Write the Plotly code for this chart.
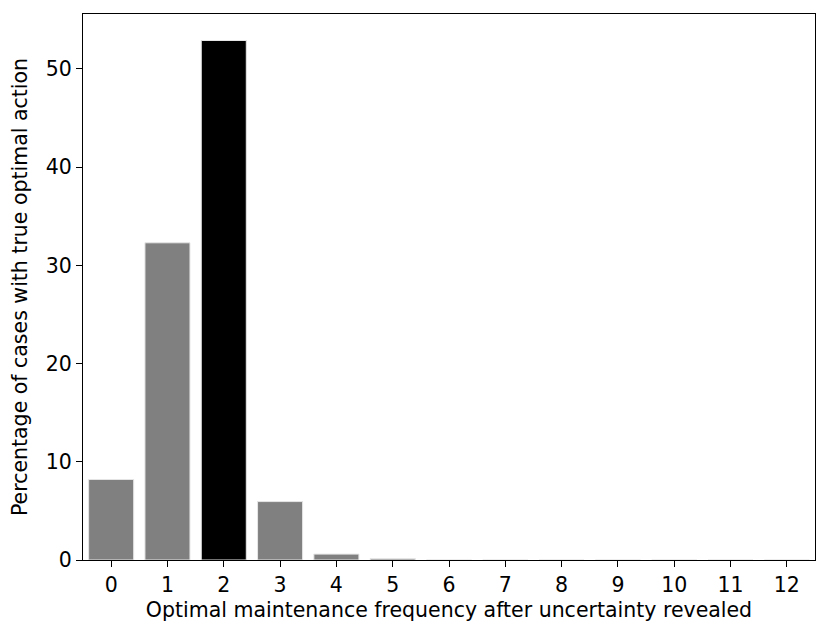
import plotly.graph_objects as go

categories = [str(i) for i in range(13)]
values = [8.2, 32.3, 52.9, 5.95, 0.6, 0.15, 0.0, 0.0, 0.0, 0.0, 0.0, 0.0, 0.0]
highlight_index = 2
y_ticks = [0, 10, 20, 30, 40, 50]

colors = ["#000000" if i == highlight_index else "#808080" for i in range(len(values))]

fig = go.Figure()
fig.add_trace(go.Bar(
    x=list(range(len(categories))), y=values,
    marker=dict(color=colors, line=dict(color="#e6e6e6", width=1)),
    width=0.8,
))

font = dict(family="DejaVu Sans", size=20.5, color="black")
fig.update_layout(
    width=830, height=637,
    margin=dict(l=75, r=23, t=6, b=85, autoexpand=False),
    paper_bgcolor="white", plot_bgcolor="white",
    showlegend=False,
    font=font,
)
fig.update_xaxes(
    range=[-0.5, 12.5], automargin=False,
    tickmode="array", tickvals=list(range(len(categories))), ticktext=categories,
    ticks="outside", ticklen=6, tickwidth=1.3, tickcolor="black",
    showline=True, linecolor="black", linewidth=1.3, mirror=True,
    showgrid=False, zeroline=False,
    tickfont=font,
    title=dict(text="Optimal maintenance frequency after uncertainty revealed", font=font, standoff=6),
)
fig.update_yaxes(
    range=[0, 55.6], automargin=False,
    tickmode="array", tickvals=y_ticks,
    ticks="outside", ticklen=6, tickwidth=1.3, tickcolor="black",
    showline=True, linecolor="black", linewidth=1.3, mirror=True,
    showgrid=False, zeroline=False,
    tickfont=font,
    title=dict(text="Percentage of cases with true optimal action", font=font, standoff=17),
)
fig.write_html("out.html")
